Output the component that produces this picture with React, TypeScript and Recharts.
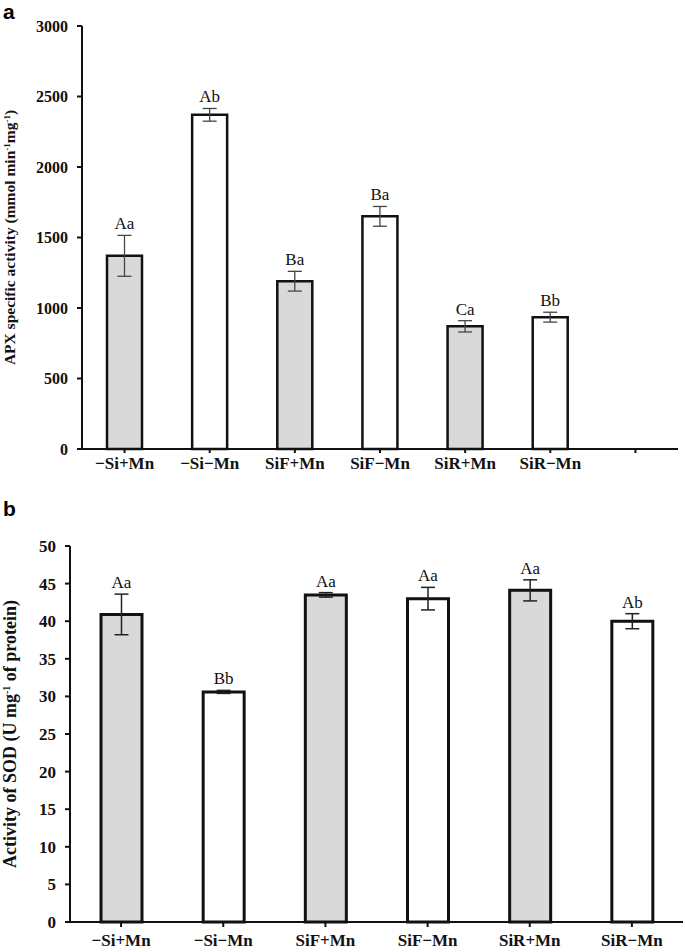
import { BarChart, Bar, XAxis, YAxis, Cell, ErrorBar, LabelList } from "recharts";

const categoriesA = ["\u2212Si+Mn", "\u2212Si\u2212Mn", "SiF+Mn", "SiF\u2212Mn", "SiR+Mn", "SiR\u2212Mn", ""];
const apxValues = [1370, 2370, 1190, 1650, 870, 935, null];
const apxErrors = [145, 45, 70, 70, 40, 35, null];
const apxLetters = ["Aa", "Ab", "Ba", "Ba", "Ca", "Bb", ""];

const categoriesB = ["\u2212Si+Mn", "\u2212Si\u2212Mn", "SiF+Mn", "SiF\u2212Mn", "SiR+Mn", "SiR\u2212Mn"];
const sodValues = [40.9, 30.6, 43.5, 43.0, 44.1, 40.0];
const sodErrors = [2.7, 0.2, 0.3, 1.5, 1.4, 1.0];
const sodLetters = ["Aa", "Bb", "Aa", "Aa", "Aa", "Ab"];

const apxTicks = [0, 500, 1000, 1500, 2000, 2500, 3000];
const sodTicks = [0, 5, 10, 15, 20, 25, 30, 35, 40, 45, 50];

const GRAY = "#d9d9d9";
const serif = "'Liberation Serif', 'Times New Roman', serif";

const apxData = categoriesA.map((name, i) => ({
  name,
  value: apxValues[i],
  err: apxErrors[i],
  letter: apxLetters[i],
}));

const sodData = categoriesB.map((name, i) => ({
  name,
  value: sodValues[i],
  err: sodErrors[i],
  letter: sodLetters[i],
}));

// +Mn bars grey, -Mn bars white
const fillFor = (name: string) => (name.endsWith("+Mn") ? GRAY : "#ffffff");

function letterLabel(data: { err: number | null; letter: string }[]) {
  return (props: any) => {
    const { x, y, width, height, value, index } = props;
    const d = data[index];
    if (!d || !d.letter || !value) return null;
    const pxPerUnit = height / value;
    const top = y - (d.err || 0) * pxPerUnit;
    return (
      <text x={x + width / 2} y={top - 6} textAnchor="middle" fontFamily={serif} fontSize={17} fill="#111">
        {d.letter}
      </text>
    );
  };
}

function AxisTitle(props: any) {
  const { viewBox, parts, x0, fontSize } = props;
  const cy = viewBox.y + viewBox.height / 2;
  return (
    <text
      x={x0}
      y={cy}
      transform={`rotate(-90, ${x0}, ${cy})`}
      textAnchor="middle"
      fontFamily={serif}
      fontWeight="bold"
      fontSize={fontSize}
      fill="#111"
    >
      {parts}
    </text>
  );
}

const tickStyle = { fontFamily: serif, fontWeight: "bold" as const, fill: "#111" };
const panelLetter = {
  position: "absolute" as const,
  left: 3,
  fontFamily: "'Liberation Sans', Arial, sans-serif",
  fontWeight: "bold" as const,
  fontSize: 21,
  lineHeight: "24px",
};

export default function App() {
  return (
    <div style={{ position: "absolute", left: 0, top: 0, width: 685, height: 952, background: "#fff" }}>
      <div style={{ ...panelLetter, top: 0 }}>a</div>
      <div style={{ ...panelLetter, top: 497 }}>b</div>

      <div style={{ position: "absolute", left: 0, top: 0 }}>
        <BarChart width={685} height={480} data={apxData} margin={{ top: 26, right: 7, bottom: 0, left: 30 }} barCategoryGap={0}>
          <XAxis
            dataKey="name"
            height={31}
            axisLine={{ stroke: "#111", strokeWidth: 2 }}
            tickLine={{ stroke: "#111", strokeWidth: 2 }}
            tickSize={4}
            tickMargin={4}
            interval={0}
            tick={{ ...tickStyle, fontSize: 17 }}
          />
          <YAxis
            width={52}
            domain={[0, 3000]}
            ticks={apxTicks}
            interval={0}
            axisLine={{ stroke: "#111", strokeWidth: 2 }}
            tickLine={{ stroke: "#111", strokeWidth: 2 }}
            tickSize={5}
            tickMargin={9}
            tick={{ ...tickStyle, fontSize: 16 }}
            label={
              <AxisTitle
                x0={15}
                fontSize={15.5}
                parts={[
                  <tspan key="a">APX specific activity (mmol min</tspan>,
                  <tspan key="b" dy={-5} fontSize={9}>-1</tspan>,
                  <tspan key="c" dy={5}>mg</tspan>,
                  <tspan key="d" dy={-5} fontSize={9}>-1</tspan>,
                  <tspan key="e" dy={5}>)</tspan>,
                ]}
              />
            }
          />
          <Bar dataKey="value" barSize={35} stroke="#111" strokeWidth={2.5} isAnimationActive={false}>
            {apxData.map((d) => (
              <Cell key={d.name + "a"} fill={fillFor(d.name)} />
            ))}
            <ErrorBar dataKey="err" width={7} stroke="#444" strokeWidth={1.3} />
            <LabelList dataKey="value" content={letterLabel(apxData)} />
          </Bar>
        </BarChart>
      </div>

      <div style={{ position: "absolute", left: 0, top: 480 }}>
        <BarChart width={685} height={472} data={sodData} margin={{ top: 66, right: 2, bottom: 0, left: 25 }} barCategoryGap={0}>
          <XAxis
            dataKey="name"
            height={30}
            axisLine={{ stroke: "#111", strokeWidth: 2 }}
            tickLine={{ stroke: "#111", strokeWidth: 2 }}
            tickSize={5}
            tickMargin={7}
            interval={0}
            tick={{ ...tickStyle, fontSize: 17 }}
          />
          <YAxis
            width={45}
            domain={[0, 50]}
            ticks={sodTicks}
            interval={0}
            axisLine={{ stroke: "#111", strokeWidth: 2 }}
            tickLine={{ stroke: "#111", strokeWidth: 2 }}
            tickSize={5}
            tickMargin={9}
            tick={{ ...tickStyle, fontSize: 17 }}
            label={
              <AxisTitle
                x0={16}
                fontSize={18}
                parts={[
                  <tspan key="a">Activity of SOD (U mg</tspan>,
                  <tspan key="b" dy={-6} fontSize={10}>-1</tspan>,
                  <tspan key="c" dy={6}> of protein)</tspan>,
                ]}
              />
            }
          />
          <Bar dataKey="value" barSize={41} stroke="#111" strokeWidth={3} isAnimationActive={false}>
            {sodData.map((d) => (
              <Cell key={d.name + "b"} fill={fillFor(d.name)} />
            ))}
            <ErrorBar dataKey="err" width={7} stroke="#222" strokeWidth={1.5} />
            <LabelList dataKey="value" content={letterLabel(sodData)} />
          </Bar>
        </BarChart>
      </div>
    </div>
  );
}
